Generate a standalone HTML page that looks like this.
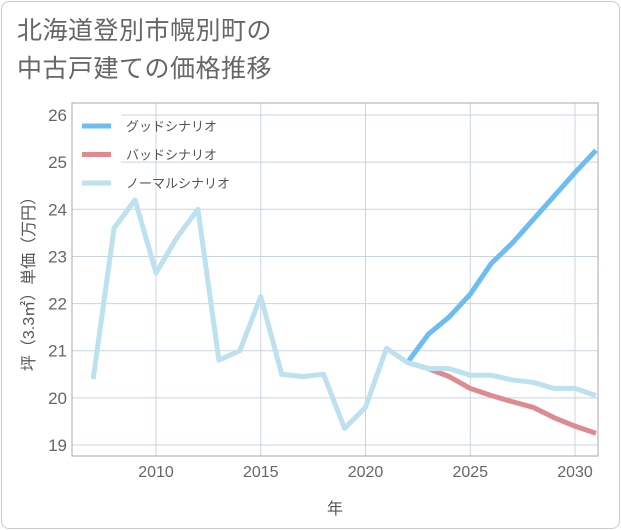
<!DOCTYPE html>
<html><head><meta charset="utf-8"><style>
body{margin:0;background:#fff;}
#wrap{position:relative;width:621px;height:530px;overflow:hidden;font-family:"Liberation Sans","Noto Sans CJK JP",sans-serif;}
#frame{position:absolute;left:1px;top:1px;width:617px;height:526px;border:1px solid #ccc;border-radius:8px;}
#title{position:absolute;left:17px;top:12px;font-size:25px;line-height:38px;color:#666;letter-spacing:0.5px;}
</style></head><body>
<div id="wrap">
<div id="frame"></div>
<div id="title">北海道登別市幌別町の<br>中古戸建ての価格推移</div>
<svg id="svg" width="621" height="530" style="position:absolute;left:0;top:0"></svg>
</div>
<script>
const years=[2007,2008,2009,2010,2011,2012,2013,2014,2015,2016,2017,2018,2019,2020,2021,2022,2023,2024,2025,2026,2027,2028,2029,2030,2031];
const normalValues=[20.4,23.6,24.2,22.65,23.4,24.0,20.8,21.0,22.15,20.5,20.45,20.5,19.35,19.8,21.05,20.75,20.62,20.62,20.48,20.48,20.38,20.33,20.2,20.2,20.05];
const futureYears=[2022,2023,2024,2025,2026,2027,2028,2029,2030,2031];
const goodValues=[20.75,21.35,21.72,22.2,22.85,23.28,23.78,24.28,24.78,25.25];
const badValues=[20.75,20.62,20.45,20.2,20.05,19.92,19.8,19.58,19.4,19.25];
const yTicks=[19,20,21,22,23,24,25,26];
const xTicks=[2010,2015,2020,2025,2030];
const legendLabels=["グッドシナリオ","バッドシナリオ","ノーマルシナリオ"];
const PL=72,PR=598,PT=103,PB=456;
const X=v=>156+(v-2010)*20.95;
const Y=v=>445-(v-19)*47.14;
const svg=document.getElementById('svg');
const NS='http://www.w3.org/2000/svg';
function mk(t,a){const e=document.createElementNS(NS,t);for(const k in a)e.setAttribute(k,a[k]);svg.appendChild(e);return e;}
yTicks.forEach(v=>{
 const l=mk('line',{x1:PL,x2:PR,y1:Y(v),y2:Y(v),stroke:'#c8d4e2','stroke-width':1});
 
 
 const t=mk('text',{x:PL-5,y:Y(v)+6,'text-anchor':'end','font-size':17,fill:'#666'});
 t.textContent=v;
 
 
});
xTicks.forEach(v=>{
 const l=mk('line',{x1:X(v),x2:X(v),y1:PT,y2:PB,stroke:'#c8d4e2','stroke-width':1});
 
 
 const t=mk('text',{x:X(v),y:PB+21,'text-anchor':'middle','font-size':16,fill:'#666'});
 t.textContent=v;
 
 
});
const ax=mk('rect',{x:PL,y:PT,width:PR-PL,height:PB-PT,fill:'none',stroke:'#aaa','stroke-width':1});


const lb=mk('rect',{x:PL+1,y:PT+1,width:48,height:100,fill:'#fff'});


function line(xs,vs,col,name){
 const p=mk('polyline',{points:xs.map((x,i)=>X(x)+','+Y(vs[i])).join(' '),fill:'none',stroke:col,'stroke-width':5,'stroke-linejoin':'round'});
 
 
}
line(futureYears,goodValues,'#6bbdf2','good-scenario-line');
line(futureYears,badValues,'#de8a90','bad-scenario-line');
line(years,normalValues,'#bde1ee','normal-scenario-line');
const cols=['#6bbdf2','#de8a90','#bde1ee'];
legendLabels.forEach((s,i)=>{
 const y=126+i*28.5;
 const l=mk('line',{x1:82,x2:111,y1:y,y2:y,stroke:cols[i],'stroke-width':5});
 
 
 const t=mk('text',{x:126,y:y+5,'font-size':13,fill:'#555'});
 t.textContent=s;
 
 
});
const yt=mk('text',{x:0,y:0,'font-size':16,fill:'#555','text-anchor':'middle',transform:'translate(34,280) rotate(-90)'});
yt.textContent='坪（3.3㎡）単価（万円）';


const xt=mk('text',{x:335,y:514,'font-size':16,fill:'#555','text-anchor':'middle'});
xt.textContent='年';


</script>
</body></html>
